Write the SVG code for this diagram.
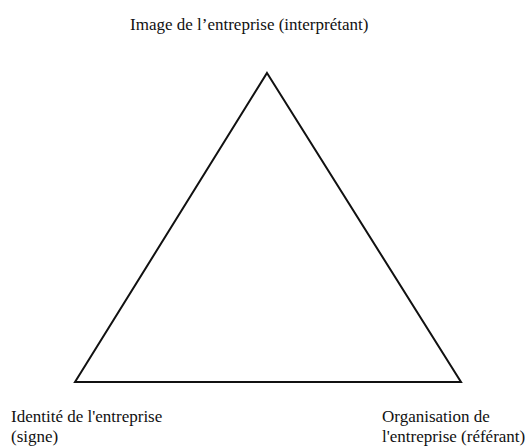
<svg xmlns="http://www.w3.org/2000/svg" width="525" height="446" viewBox="0 0 525 446">
<style>
text { font-family: 'Liberation Serif', 'DejaVu Serif', serif; font-size: 17px; fill: #111; }
.edge { fill: none; stroke: #111; stroke-width: 2; stroke-linejoin: miter; }
</style>
<rect width="525" height="446" fill="#fff"/>
<g id="connectors">
<polygon class="edge" points="267,73 461,382 75,382"/>
</g>
<g id="node-interpretant">
<text x="130" y="30">Image de l’entreprise (interprétant)</text>
</g>
<g id="node-signe">
<text x="11" y="422">Identité de l'entreprise</text>
<text x="11" y="442">(signe)</text>
</g>
<g id="node-referant">
<text x="382" y="422">Organisation de</text>
<text x="382" y="442">l'entreprise (référant)</text>
</g>
</svg>
